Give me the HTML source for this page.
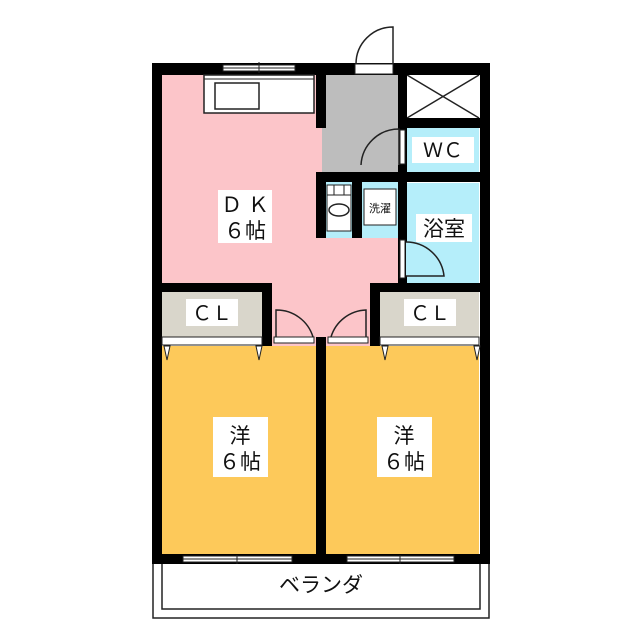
<!DOCTYPE html>
<html><head><meta charset="utf-8"><style>body{margin:0;background:#fff}svg{display:block}text{font-family:"Liberation Sans","Noto Sans CJK JP",sans-serif;fill:#111}</style></head><body>
<svg width="640" height="640" viewBox="0 0 640 640" xmlns="http://www.w3.org/2000/svg">
<rect width="640" height="640" fill="#fff"/>
<!-- balcony -->
<rect x="153" y="563" width="336" height="55" fill="#fff" stroke="#222" stroke-width="1.5"/>
<rect x="162" y="563" width="318" height="46" fill="#fff" stroke="#222" stroke-width="1.5"/>
<!-- floors -->
<rect x="162" y="75" width="236" height="210" fill="#fcc5c9"/>
<rect x="322" y="75" width="76" height="97" fill="#bdbdbd"/>
<rect x="407" y="75" width="72" height="43" fill="#fff"/>
<rect x="407" y="128" width="72" height="44" fill="#b5eefa"/>
<rect x="407" y="183" width="72" height="100" fill="#b5eefa"/>
<rect x="326" y="182" width="72" height="56" fill="#b5eefa"/>
<rect x="162" y="292" width="100" height="45" fill="#d9d6cb"/>
<rect x="380" y="292" width="99" height="45" fill="#d9d6cb"/>
<rect x="270" y="280" width="102" height="66" fill="#fcc5c9"/>
<rect x="162" y="346" width="154" height="208" fill="#fdc95a"/>
<rect x="326" y="346" width="153" height="208" fill="#fdc95a"/>
<!-- X box -->
<path d="M407 75 L479 118 M479 75 L407 118" stroke="#222" stroke-width="1.5"/>
<!-- walls -->
<g fill="#000">
<rect x="152" y="63" width="338" height="12"/>
<rect x="152" y="63" width="10" height="500"/>
<rect x="480" y="63" width="10" height="500"/>
<rect x="152" y="554" width="338" height="10"/>
<rect x="316" y="63" width="10" height="65"/>
<rect x="398" y="63" width="9" height="220"/>
<rect x="398" y="118" width="92" height="10"/>
<rect x="316" y="172" width="174" height="10"/>
<rect x="316" y="172" width="10" height="66"/>
<rect x="352" y="182" width="10" height="56"/>
<rect x="152" y="283" width="120" height="9"/>
<rect x="370" y="283" width="120" height="9"/>
<rect x="262" y="283" width="10" height="63"/>
<rect x="370" y="283" width="10" height="63"/>
<rect x="316" y="337" width="10" height="220"/>
</g>
<!-- windows -->
<g fill="#fff" stroke="#222" stroke-width="1">
<rect x="223" y="65" width="72" height="6"/>
<rect x="183" y="556" width="109" height="6"/>
<rect x="347" y="556" width="107" height="6"/>
<rect x="355" y="64" width="38" height="10"/>
</g>
<path d="M223 68 H295 M183 559 H292 M347 559 H454" stroke="#222" stroke-width="1"/>
<path d="M259 62 V73 M237 555 V564 M400 555 V564" stroke="#222" stroke-width="1"/>
<!-- entrance door -->
<path d="M393 64 V27 A37 37 0 0 0 356 64" fill="none" stroke="#222" stroke-width="1.5"/>
<!-- WC door -->
<rect x="400" y="130" width="5" height="34" fill="#fff" stroke="#222" stroke-width="1"/>
<path d="M361 165 A38 38 0 0 1 399 129 V165" fill="#bdbdbd" stroke="#222" stroke-width="1.5"/>
<!-- bath door -->
<rect x="400" y="240" width="5" height="38" fill="#fff" stroke="#222" stroke-width="1"/>
<path d="M406 242 A38 38 0 0 1 444 276 H406" fill="#b5eefa" stroke="#222" stroke-width="1.5"/>
<!-- CL doors -->
<g fill="#fff" stroke="#222" stroke-width="1">
<rect x="162" y="337" width="100" height="8"/>
<rect x="380" y="337" width="99" height="8"/>
<rect x="274" y="337" width="40" height="6"/>
<rect x="328" y="337" width="40" height="6"/>
</g>
<path d="M276 337 V310 A38 38 0 0 1 313 337 M366 337 V310 A38 38 0 0 0 331 337" fill="none" stroke="#222" stroke-width="1.5"/>
<path d="M164 346 L167 360 L170 346 Z M256 346 L259 360 L262 346 Z M382 346 L385 360 L388 346 Z M474 346 L477 360 L480 346 Z" fill="#fff" stroke="#222" stroke-width="1"/>
<!-- kitchen -->
<rect x="204" y="75" width="110" height="38" fill="#fff" stroke="#222" stroke-width="1.5"/>
<path d="M204 79 H314" stroke="#222" stroke-width="1"/>
<rect x="215" y="83" width="44" height="26" fill="#fff" stroke="#222" stroke-width="1.5"/>
<!-- wash -->
<rect x="327" y="185" width="24" height="46" fill="#fff" stroke="#222" stroke-width="1"/>
<path d="M327 195 H351 M334 185 V195 M344 185 V195" stroke="#222" stroke-width="1"/>
<ellipse cx="339" cy="210" rx="10" ry="6" fill="#fff" stroke="#222" stroke-width="1.5"/>
<rect x="364" y="189" width="32" height="36" fill="#fff" stroke="#222" stroke-width="1"/>
<text x="380" y="212" font-size="11" text-anchor="middle">洗濯</text>
<!-- labels -->
<rect x="218" y="190" width="54" height="53" fill="#fff"/>
<text x="245" y="212" font-size="21" text-anchor="middle">Ｄ Ｋ</text>
<text x="245" y="238" font-size="21" text-anchor="middle">６帖</text>
<rect x="412" y="137" width="62" height="26" fill="#fff"/>
<text x="443" y="157" font-size="20" text-anchor="middle">ＷＣ</text>
<rect x="416" y="214" width="56" height="28" fill="#fff"/>
<text x="444" y="236" font-size="21" text-anchor="middle">浴室</text>
<rect x="186" y="299" width="52" height="27" fill="#fff"/>
<text x="212" y="320" font-size="20" text-anchor="middle">ＣＬ</text>
<rect x="404" y="299" width="52" height="27" fill="#fff"/>
<text x="430" y="320" font-size="20" text-anchor="middle">ＣＬ</text>
<rect x="213" y="417" width="55" height="60" fill="#fff"/>
<text x="240" y="443" font-size="21" text-anchor="middle">洋</text>
<text x="240" y="469" font-size="21" text-anchor="middle">６帖</text>
<rect x="377" y="417" width="55" height="60" fill="#fff"/>
<text x="404" y="443" font-size="21" text-anchor="middle">洋</text>
<text x="404" y="469" font-size="21" text-anchor="middle">６帖</text>
<text x="321" y="592" font-size="21" text-anchor="middle">ベランダ</text>
</svg>
</body></html>
